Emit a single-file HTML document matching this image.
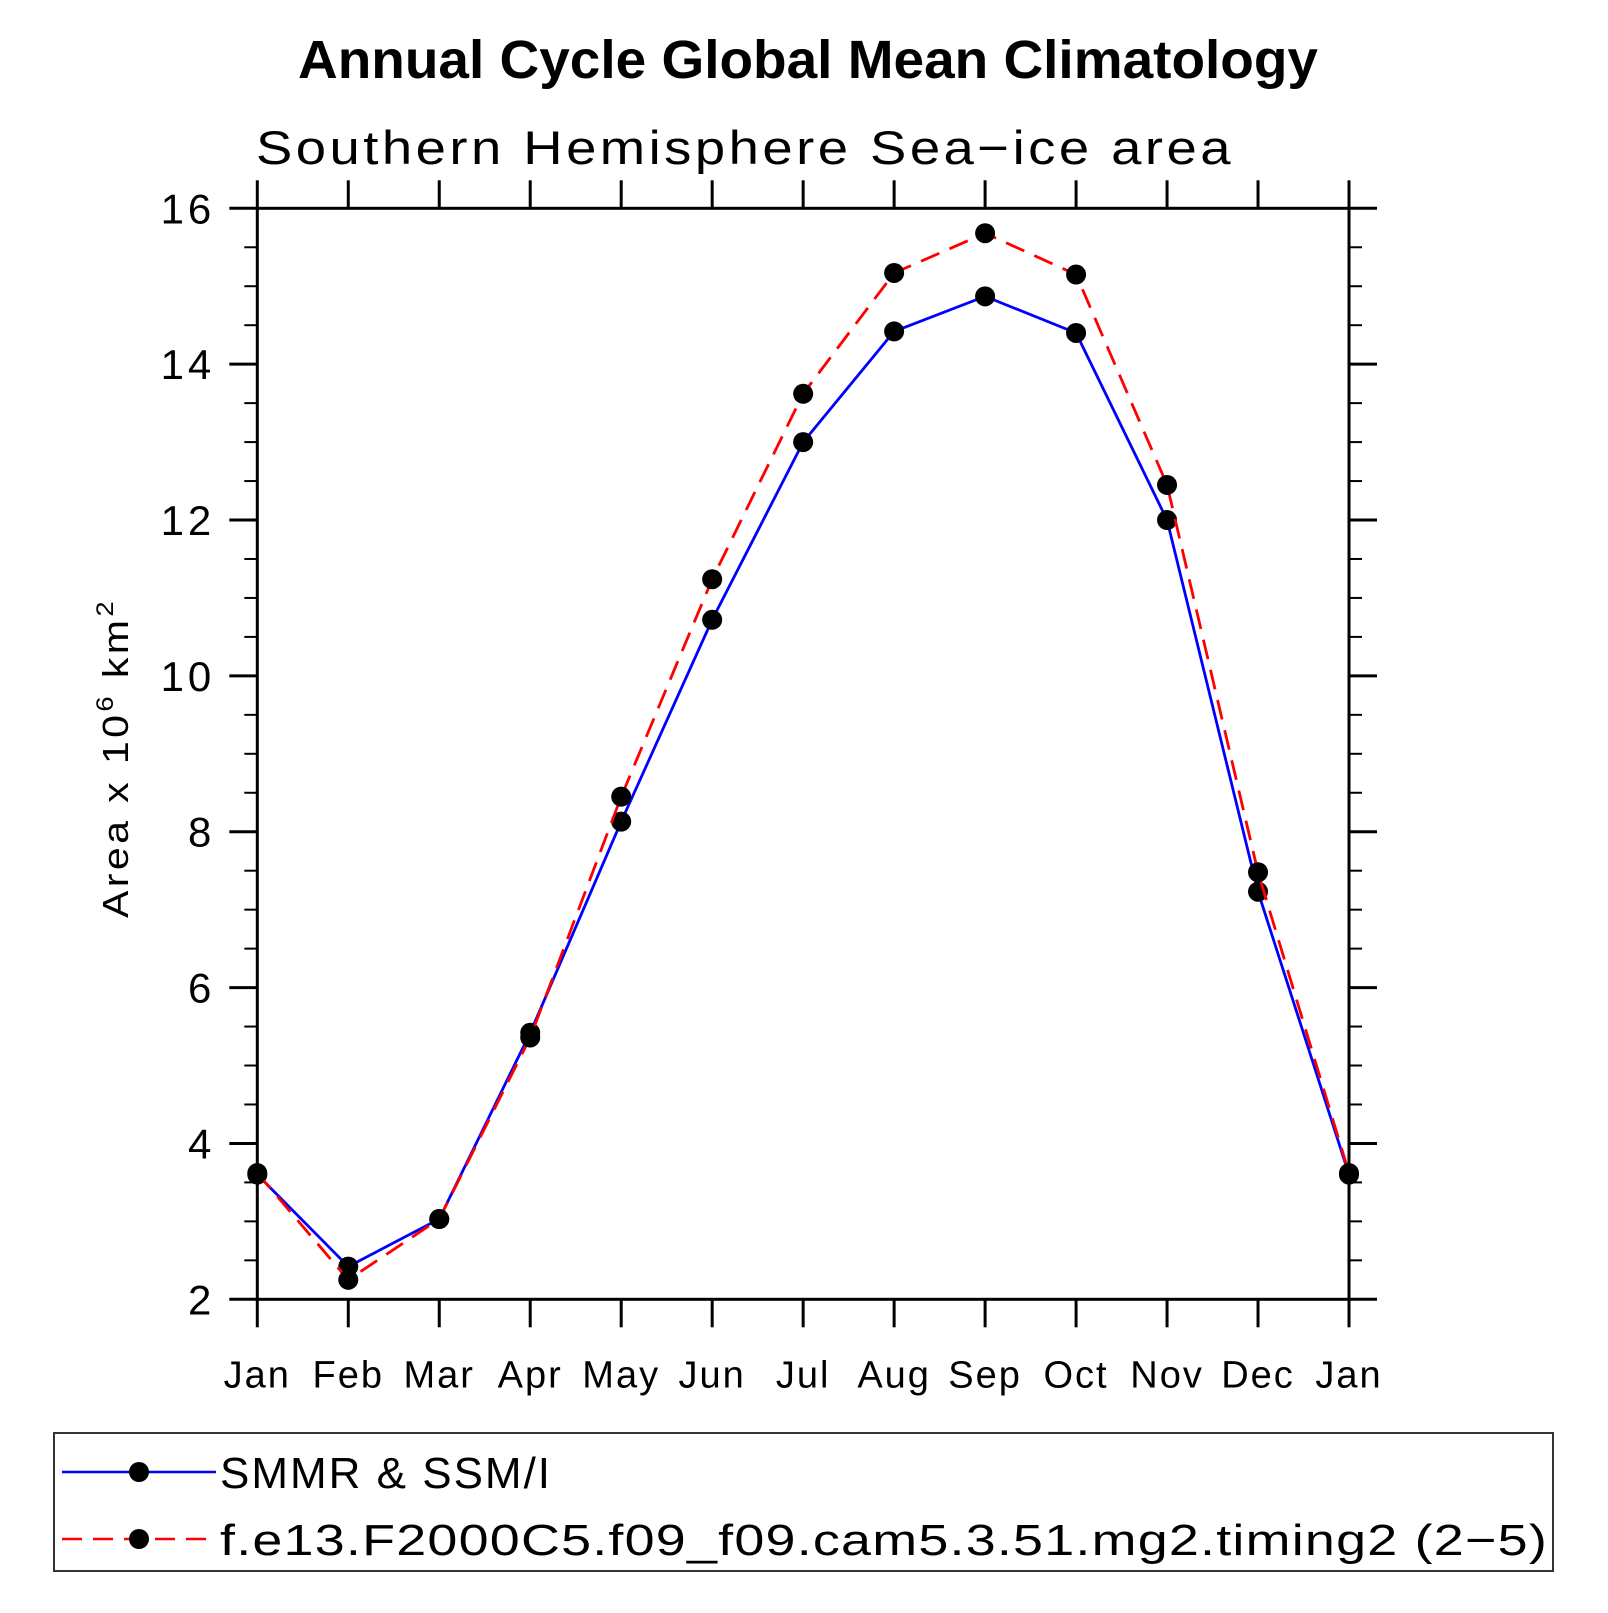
<!DOCTYPE html>
<html><head><meta charset="utf-8"><style>
html,body{margin:0;padding:0;background:#fff;}
svg text{font-family:"Liberation Sans",sans-serif;}
</style></head><body>
<svg id="chart" width="1608" height="1608" viewBox="0 0 1608 1608" xmlns="http://www.w3.org/2000/svg">
<text x="808" y="78" text-anchor="middle" font-size="54" font-weight="bold" textLength="1020" lengthAdjust="spacingAndGlyphs">Annual Cycle Global Mean Climatology</text>
<text x="256" y="164" font-size="47" font-weight="300" letter-spacing="3" textLength="978" lengthAdjust="spacingAndGlyphs">Southern Hemisphere Sea−ice area</text>
<text transform="translate(128,758) rotate(-90)" text-anchor="middle" font-size="36" letter-spacing="3" textLength="320" lengthAdjust="spacingAndGlyphs">Area x 10<tspan font-size="24" dy="-15">6</tspan><tspan dy="15"> km</tspan><tspan font-size="24" dy="-15">2</tspan></text>
<g id="axes"></g>
<g id="series"></g>
<rect x="54" y="1433" width="1499" height="138" fill="none" stroke="#333" stroke-width="2"/>
<g>
<line x1="62" y1="1472" x2="216" y2="1472" stroke="#0000ff" stroke-width="2.5"/>
<circle cx="139" cy="1472" r="10" fill="#000"/>
<text x="220" y="1488" font-size="44" font-weight="300" letter-spacing="2">SMMR &amp; SSM/I</text>
</g>
<g>
<line x1="62" y1="1539" x2="216" y2="1539" stroke="#ff0000" stroke-width="2.5" stroke-dasharray="20,11"/>
<circle cx="139" cy="1539" r="10" fill="#000"/>
<text x="220" y="1555" font-size="44" font-weight="300" letter-spacing="1" textLength="1328" lengthAdjust="spacingAndGlyphs">f.e13.F2000C5.f09_f09.cam5.3.51.mg2.timing2 (2−5)</text>
</g>
</svg>
<script>
const months = ["Jan","Feb","Mar","Apr","May","Jun","Jul","Aug","Sep","Oct","Nov","Dec","Jan"];
const obsValues = [3.6,2.42,3.03,5.42,8.13,10.72,13.0,14.42,14.87,14.4,12.0,7.23,3.6];
const modelValues = [3.62,2.25,3.03,5.36,8.45,11.24,13.62,15.17,15.68,15.15,12.45,7.48,3.62];
const yTicks = [2,4,6,8,10,12,14,16];

const L=257.3,R=1349,T=208.3,B=1299.3,yMin=2,yMax=16;
function xs(i){return L+(R-L)*i/(months.length-1);}
function ys(v){return B-(B-T)*(v-yMin)/(yMax-yMin);}
const NS="http://www.w3.org/2000/svg";
function mk(tag,attrs,parent){const e=document.createElementNS(NS,tag);for(const k in attrs)e.setAttribute(k,attrs[k]);parent.appendChild(e);return e;}
const axes=document.getElementById('axes');
const frame=mk('rect',{x:L,y:T,width:R-L,height:B-T,fill:'none',stroke:'#000','stroke-width':3},axes);


months.forEach((m,i)=>{
  const x=xs(i);
  mk('line',{x1:x,y1:B,x2:x,y2:B+28,stroke:'#000','stroke-width':3},axes);
  mk('line',{x1:x,y1:T,x2:x,y2:T-28,stroke:'#000','stroke-width':3},axes);
  const t=mk('text',{x:x,y:B+88,'text-anchor':'middle','font-size':38,'font-weight':300,'letter-spacing':2},axes);
  t.textContent=m;
  
  
});
for(let v=yMin;v<=yMax+1e-9;v+=0.5){
  const y=ys(v),major=Math.abs(v-Math.round(v/2)*2)<1e-9;
  const len=major?28:13;
  mk('line',{x1:L-len,y1:y,x2:L,y2:y,stroke:'#000','stroke-width':major?3:2},axes);
  mk('line',{x1:R,y1:y,x2:R+len,y2:y,stroke:'#000','stroke-width':major?3:2},axes);
}
yTicks.forEach(v=>{
  const t=mk('text',{x:L-42,y:ys(v)+15,'text-anchor':'end','font-size':42,'font-weight':300,'letter-spacing':4},axes);
  t.textContent=v;
  
  
});
const sg=document.getElementById('series');
function draw(vals,color,dash,name){
  const p=mk('polyline',{points:vals.map((v,i)=>xs(i)+','+ys(v)).join(' '),fill:'none',stroke:color,'stroke-width':2.8},sg);
  if(dash)p.setAttribute('stroke-dasharray',dash);
  
  
  vals.forEach((v,i)=>{
    const c=mk('circle',{cx:xs(i),cy:ys(v),r:10,fill:'#000'},sg);
    
    
  });
}
draw(obsValues,'#0000ff',null,'obs');
draw(modelValues,'#ff0000','20,11','model');
</script>
</body></html>
